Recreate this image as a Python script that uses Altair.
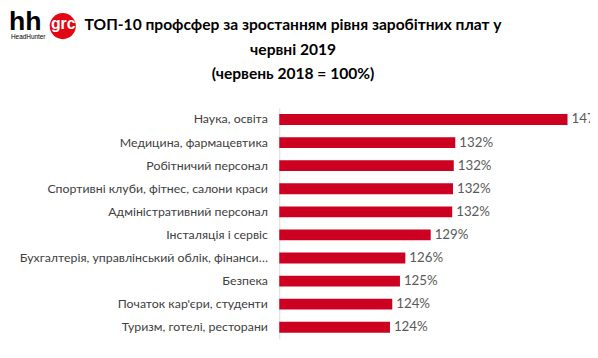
import altair as alt
import pandas as pd

categories = [
    "Наука, освіта",
    "Медицина, фармацевтика",
    "Робітничий персонал",
    "Спортивні клуби, фітнес, салони краси",
    "Адміністративний персонал",
    "Інсталяція і сервіс",
    "Бухгалтерія, управлінський облік, фінанси…",
    "Безпека",
    "Початок кар'єри, студенти",
    "Туризм, готелі, ресторани",
]
values = [147.0, 132.4, 132.2, 132.1, 132.0, 129.2, 125.9, 125.2, 124.2, 123.9]
title_lines = [
    "ТОП-10 профсфер за зростанням рівня заробітних плат у",
    "червні 2019",
    "(червень 2018 = 100%)",
]
X_MIN, X_MAX = 109.5, 148

df = pd.DataFrame({"cat": categories, "val": values})
df["label"] = df["val"].round(0).astype(int).astype(str) + "%"

W, H = 300, 234
RED = "#cc0020"

base = alt.Chart(df)
ysc = alt.Y("cat:N", sort=None, title=None,
            scale=alt.Scale(paddingInner=0.53, paddingOuter=0.265),
            axis=alt.Axis(ticks=False, domainColor="#d9d9d9", labelColor="#404040",
                          labelFont="Lato", labelFontSize=12.5, labelPadding=12,
                          labelLimit=400))
xsc = alt.X("val:Q", axis=None, scale=alt.Scale(domain=[X_MIN, X_MAX], nice=False, zero=False))

bars = base.mark_bar(color=RED).encode(x=xsc, x2=alt.datum(X_MIN), y=ysc)
labels = base.mark_text(align="left", baseline="middle", dx=4, font="Lato",
                        fontSize=13.5, color="#595959").encode(x=xsc, y=ysc, text="label:N")

title_df = pd.DataFrame({"t": ["\n".join(title_lines)]})
title = alt.Chart(title_df).mark_text(
    lineBreak="\n", lineHeight=25, font="Lato", fontSize=15.8, fontWeight="bold",
    color="#000000", align="center", baseline="alphabetic").encode(
    x=alt.value(14), y=alt.value(-79), text="t:N")

logo_df = pd.DataFrame({"a": [0]})
lb = alt.Chart(logo_df)
hh = lb.mark_text(text="hh", font="Liberation Sans", fontWeight="bold", fontSize=27,
                  align="left", baseline="alphabetic", color="#000000").encode(
    x=alt.value(-274), y=alt.value(-79))
circ = lb.mark_circle(color="#e30613", opacity=1, size=700).encode(
    x=alt.value(-219.5), y=alt.value(-83))
grc = lb.mark_text(text="grc", font="Liberation Sans", fontWeight="bold", fontSize=16,
                   align="center", baseline="middle", color="white").encode(
    x=alt.value(-219), y=alt.value(-85))
hhn = lb.mark_text(text="HeadHunter", font="Liberation Sans", fontSize=6.5,
                   align="left", baseline="alphabetic", color="#000000").encode(
    x=alt.value(-272), y=alt.value(-70))

chart = alt.layer(bars, labels, title, circ, grc, hh, hhn).properties(
    width=W, height=H,
    autosize=alt.AutoSizeParams(type="none"),
    padding={"left": 275, "top": 99, "right": 15, "bottom": 10},
).configure_view(stroke=None)

chart.save("out.html", embed_options={"renderer": "svg", "actions": False})
